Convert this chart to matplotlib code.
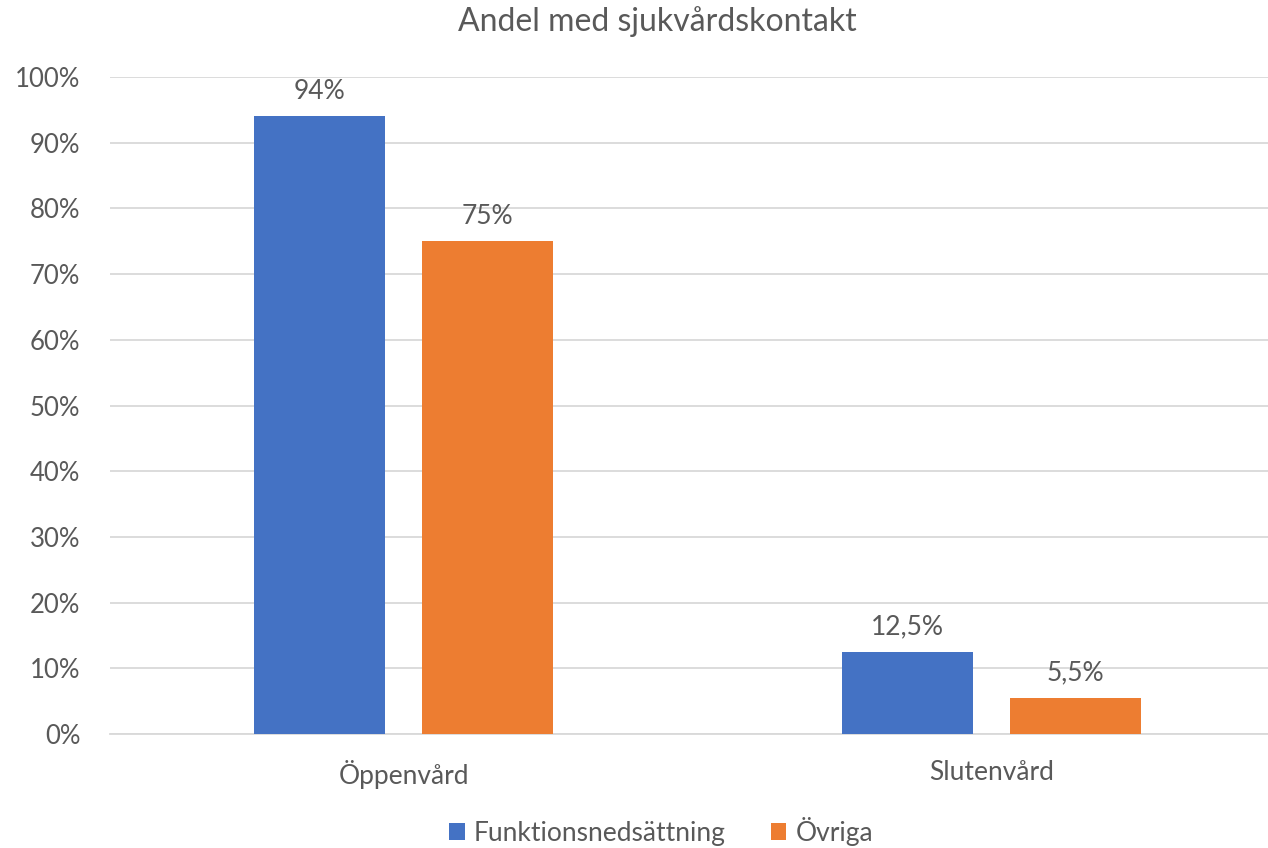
import matplotlib
matplotlib.use("Agg")
import matplotlib.pyplot as plt
import numpy as np

categories = ["Öppenvård", "Slutenvård"]
series_names = ["Funktionsnedsättning", "Övriga"]
funk = [0.94, 0.125]
ovriga = [0.75, 0.055]
funk_labels = ["94%", "12,5%"]
ovriga_labels = ["75%", "5,5%"]
yticks = [0, 0.1, 0.2, 0.3, 0.4, 0.5, 0.6, 0.7, 0.8, 0.9, 1.0]
ytick_labels = ["0%", "10%", "20%", "30%", "40%", "50%", "60%", "70%", "80%", "90%", "100%"]
title = "Andel med sjukvårdskontakt"

plt.rcParams['font.family'] = ['Lato', 'DejaVu Sans']
txt = "#595959"
W, H = 1268, 848
fig = plt.figure(figsize=(W/100, H/100), dpi=100)
ax = fig.add_axes([109.5/W, 1-734/H, 1176/W, (734-77)/H])

x = np.arange(len(categories))
bw = 131/588
off = 83.75/588
b1 = ax.bar(x-off, funk, bw, color="#4472C4", label=series_names[0], zorder=3)
b2 = ax.bar(x+off, ovriga, bw, color="#ED7D31", label=series_names[1], zorder=3)
for bars, labs in ((b1, funk_labels), (b2, ovriga_labels)):
    for r, l in zip(bars, labs):
        ax.annotate(l, (r.get_x()+r.get_width()/2, r.get_height()), xytext=(0, 9),
                    textcoords="offset points", ha="center", va="bottom",
                    fontsize=19, color=txt)

ax.set_xlim(-0.5, 1.5)
ax.set_ylim(0, 1.0)
ax.set_yticks(yticks)
ax.set_yticklabels(ytick_labels)
ax.set_xticks(x)
ax.set_xticklabels(categories)
ax.tick_params(axis='y', length=0, labelsize=18.5, colors=txt, pad=21)
ax.tick_params(axis='x', length=0, labelsize=19, colors=txt, pad=19)
ax.grid(axis='y', color="#d9d9d9", lw=1.3, zorder=0)
for s in ["top", "right", "left"]:
    ax.spines[s].set_visible(False)
ax.spines["bottom"].set_color("#d9d9d9")
ax.spines["bottom"].set_linewidth(1.3)

fig.text(657/W, 1-22/H, title, ha="center", va="center", fontsize=23, color=txt)
leg = fig.legend(handles=[b1, b2], loc="center", bbox_to_anchor=(661/W, 1-831/H), ncol=2,
                 frameon=False, fontsize=19, handlelength=0.6, handleheight=0.6,
                 handletextpad=0.35, columnspacing=1.7, labelcolor=txt)
fig.savefig("out.png", dpi=100)
